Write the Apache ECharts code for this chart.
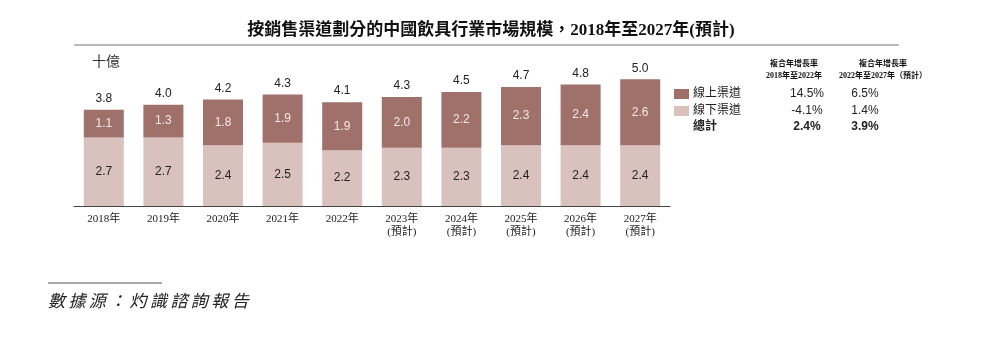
<!DOCTYPE html>
<html><head><meta charset="utf-8">
<script src="https://cdn.jsdelivr.net/npm/echarts@6/dist/echarts.min.js"></script>
<style>html,body{margin:0;padding:0;background:#fff}#c{width:1000px;height:345px}</style>
</head><body><div id="c"></div>
<script>
var categories = ['2018年','2019年','2020年','2021年','2022年','2023年\n(預計)','2024年\n(預計)','2025年\n(預計)','2026年\n(預計)','2027年\n(預計)'];
var offline = [2.7, 2.7, 2.4, 2.5, 2.2, 2.3, 2.3, 2.4, 2.4, 2.4];
var online = [1.1, 1.3, 1.8, 1.9, 1.9, 2.0, 2.2, 2.3, 2.4, 2.6];
var totals = [3.8, 4.0, 4.2, 4.3, 4.1, 4.3, 4.5, 4.7, 4.8, 5.0];
var tableRows = ['線上渠道','線下渠道','總計'];
var cagr1 = ['14.5%','-4.1%','2.4%'];
var cagr2 = ['6.5%','1.4%','3.9%'];
var headers1 = ['複合年增長率','2018年至2022年'];
var headers2 = ['複合年增長率','2022年至2027年（預計）'];

var DARK = '#a0706a', LIGHT = '#d9c2be';
var SERIF = '"Liberation Serif","DejaVu Serif","Noto Sans CJK TC",serif';
var SANS = '"Liberation Sans","Noto Sans CJK TC",sans-serif';
var chart = echarts.init(document.getElementById('c'));

var g = [];
g.push({type:'text', x:491, y:31, style:{text:'按銷售渠道劃分的中國飲具行業市場規模，2018年至2027年(預計)', font:'bold 17px '+SERIF, fill:'#111', align:'center', verticalAlign:'middle'}});
g.push({type:'line', shape:{x1:74,y1:45,x2:899,y2:45}, style:{stroke:'#777', lineWidth:1.2}});
g.push({type:'text', x:92, y:55, style:{text:'十億', font:'14px '+SANS, fill:'#333'}});
var h1x = 794, h2x = 883;
g.push({type:'text', x:h1x, y:64, style:{text:headers1[0], font:'bold 8px '+SERIF, fill:'#111', align:'center', verticalAlign:'middle'}});
g.push({type:'text', x:h1x, y:76, style:{text:headers1[1], font:'bold 8px '+SERIF, fill:'#111', align:'center', verticalAlign:'middle'}});
g.push({type:'text', x:h2x, y:64, style:{text:headers2[0], font:'bold 8px '+SERIF, fill:'#111', align:'center', verticalAlign:'middle'}});
g.push({type:'text', x:h2x, y:76, style:{text:headers2[1], font:'bold 8px '+SERIF, fill:'#111', align:'center', verticalAlign:'middle'}});
var rowY = [94, 111, 127];
var swatch = [DARK, LIGHT, null];
for (var i = 0; i < 3; i++) {
  if (swatch[i]) g.push({type:'rect', shape:{x:674,y:rowY[i]-5,width:15,height:10}, style:{fill:swatch[i]}});
  var bold = i === 2 ? 'bold ' : '';
  g.push({type:'text', x:693, y:rowY[i], style:{text:tableRows[i], font:bold+'12px '+SANS, fill:'#222', verticalAlign:'middle'}});
  g.push({type:'text', x:807, y:rowY[i], style:{text:cagr1[i], font:bold+'12px '+SANS, fill:'#222', align:'center', verticalAlign:'middle'}});
  g.push({type:'text', x:865, y:rowY[i], style:{text:cagr2[i], font:bold+'12px '+SANS, fill:'#222', align:'center', verticalAlign:'middle'}});
}
g.push({type:'line', shape:{x1:48,y1:283,x2:162,y2:283}, style:{stroke:'#555', lineWidth:1.2}});
g.push({type:'text', x:48, y:302, style:{text:'數\u2009據\u2009源\u2009：\u2009灼\u2009識\u2009諮\u2009詢\u2009報\u2009告', font:'italic 17px '+SANS, fill:'#222', verticalAlign:'middle'}});

function f1(p){ return Number(p.value).toFixed(1); }
chart.setOption({
  animation:false,
  grid:{left:74, right:330, top:54, bottom:139},
  xAxis:{type:'category', data:categories, axisTick:{show:false},
    axisLine:{lineStyle:{color:'#444', width:1.2}},
    axisLabel:{fontFamily:SERIF, fontSize:11, color:'#222', margin:7, lineHeight:13}},
  yAxis:{type:'value', min:0, max:6, show:false, splitLine:{show:false}},
  series:[
    {type:'bar', stack:'a', data:offline, barWidth:40, itemStyle:{color:LIGHT},
     label:{show:true, position:'inside', color:'#222', fontFamily:SANS, fontSize:12, formatter:f1}},
    {type:'bar', stack:'a', data:online, barWidth:40, itemStyle:{color:DARK},
     label:{show:true, position:'inside', color:'#f3e9e7', fontFamily:SANS, fontSize:12, formatter:f1}},
    {type:'bar', stack:'a', data:online.map(function(){return 0;}), barWidth:40, itemStyle:{color:'transparent'},
     label:{show:true, position:'top', distance:5, color:'#222', fontFamily:SANS, fontSize:12,
       formatter:function(p){return totals[p.dataIndex].toFixed(1);}}}
  ],
  graphic:g
});
</script></body></html>
